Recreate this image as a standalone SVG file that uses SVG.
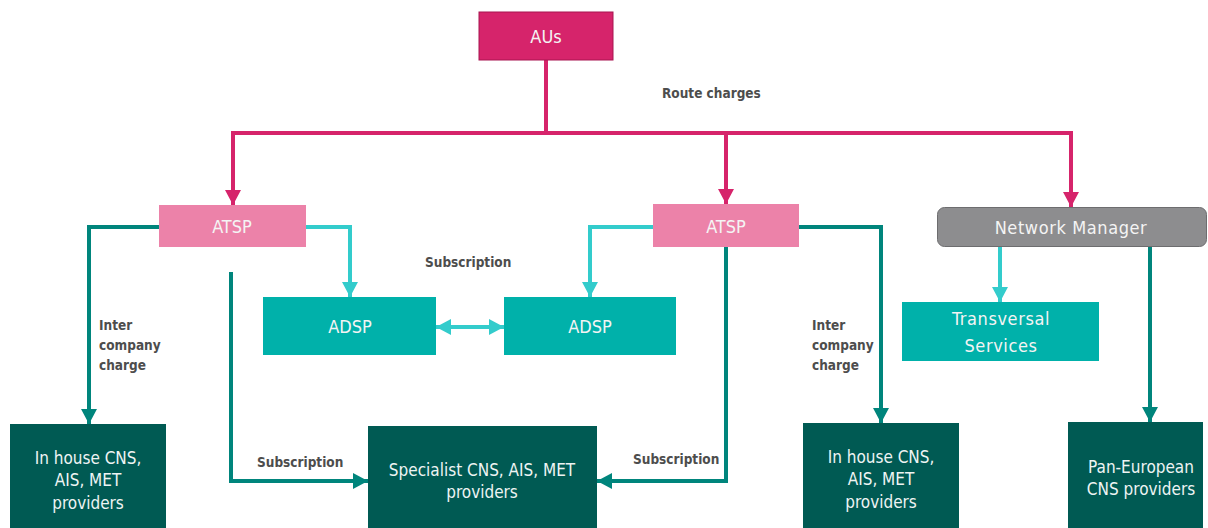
<svg xmlns="http://www.w3.org/2000/svg" width="1208" height="528" viewBox="0 0 1208 528">
<style>
.lbl{font-family:"Liberation Sans Narrow","DejaVu Sans Condensed","Liberation Sans",sans-serif;font-weight:bold;font-size:13.5px;fill:#4d4d4d}
.nt{font-family:"Liberation Sans Narrow","DejaVu Sans Condensed","Liberation Sans",sans-serif;font-size:18px;fill:#f4f4f4;text-anchor:middle}
.nt2{font-family:"Liberation Sans Narrow","DejaVu Sans Condensed","Liberation Sans",sans-serif;font-size:17px;fill:#eef4f3;text-anchor:middle}
.mag{fill:none;stroke:#d6246b;stroke-width:4}
.teal{fill:none;stroke:#00857c;stroke-width:4}
.cyan{fill:none;stroke:#33cccc;stroke-width:4}
</style>
<defs>
<marker id="am" markerUnits="userSpaceOnUse" markerWidth="16" markerHeight="16" refX="15" refY="8" orient="auto"><path d="M0,0 L15,8 L0,16 z" fill="#d6246b"/></marker>
<marker id="at" markerUnits="userSpaceOnUse" markerWidth="16" markerHeight="16" refX="15" refY="8" orient="auto"><path d="M0,0 L15,8 L0,16 z" fill="#00857c"/></marker>
<marker id="ac" markerUnits="userSpaceOnUse" markerWidth="16" markerHeight="16" refX="15" refY="8" orient="auto"><path d="M0,0 L15,8 L0,16 z" fill="#33cccc"/></marker>
<marker id="acs" markerUnits="userSpaceOnUse" markerWidth="16" markerHeight="16" refX="0" refY="8" orient="auto"><path d="M15,0 L0,8 L15,16 z" fill="#33cccc"/></marker>
</defs>
<rect width="1208" height="528" fill="#ffffff"/>
<g id="connectors">
<path class="mag" d="M546,60 V133 H233 V205" marker-end="url(#am)"/>
<path class="mag" d="M546,133 H726 V204" marker-end="url(#am)"/>
<path class="mag" d="M726,133 H1071 V207" marker-end="url(#am)"/>
<path class="teal" d="M159,227 H89 V424" marker-end="url(#at)"/>
<path class="teal" d="M231,272 V481 H368" marker-end="url(#at)"/>
<path class="teal" d="M726,247 V481 H597" marker-end="url(#at)"/>
<path class="teal" d="M799,227 H881 V423" marker-end="url(#at)"/>
<path class="teal" d="M1150,247 V422" marker-end="url(#at)"/>
<path class="cyan" d="M306,227 H350 V297" marker-end="url(#ac)"/>
<path class="cyan" d="M653,227 H590 V297" marker-end="url(#ac)"/>
<path class="cyan" d="M1000,247 V302" marker-end="url(#ac)"/>
<path class="cyan" d="M436,327 H504" marker-start="url(#acs)" marker-end="url(#ac)"/>
<text class="lbl" x="662" y="98">Route charges</text>
<text class="lbl" x="425" y="267">Subscription</text>
<text class="lbl" x="257" y="467">Subscription</text>
<text class="lbl" x="633" y="464">Subscription</text>
<text class="lbl" x="99" y="330">Inter</text>
<text class="lbl" x="99" y="350">company</text>
<text class="lbl" x="99" y="370">charge</text>
<text class="lbl" x="812" y="330">Inter</text>
<text class="lbl" x="812" y="350">company</text>
<text class="lbl" x="812" y="370">charge</text>
</g>
<g id="aus"><rect x="479" y="12" width="134" height="48" fill="#d6246b" stroke="#a81550" stroke-width="1"/><text class="nt" x="546" y="43">AUs</text></g>
<g id="atsp1"><rect x="159" y="205" width="147" height="42" fill="#ec82a9"/><text class="nt" x="232" y="233">ATSP</text></g>
<g id="atsp2"><rect x="653" y="204" width="146" height="43" fill="#ec82a9"/><text class="nt" x="726" y="233">ATSP</text></g>
<g id="nm"><rect x="937.5" y="207.5" width="269" height="39" rx="7" fill="#8d8d8f" stroke="#6d6d6f" stroke-width="1"/><text class="nt" x="1071" y="234" letter-spacing="0.6">Network Manager</text></g>
<g id="adsp1"><rect x="263" y="297" width="173" height="58" fill="#00b1aa"/><text class="nt" x="350" y="333">ADSP</text></g>
<g id="adsp2"><rect x="504" y="297" width="172" height="58" fill="#00b1aa"/><text class="nt" x="590" y="333">ADSP</text></g>
<g id="transversal"><rect x="902" y="302" width="197" height="59" fill="#00b1aa"/><text class="nt" x="1001" y="325" letter-spacing="0.6">Transversal</text><text class="nt" x="1001" y="352" letter-spacing="0.6">Services</text></g>
<g id="inhouse1"><rect x="10" y="424" width="156" height="104" fill="#005a53"/><text class="nt2" x="88" y="464">In house CNS,</text><text class="nt2" x="88" y="486">AIS, MET</text><text class="nt2" x="88" y="509">providers</text></g>
<g id="specialist"><rect x="368" y="426" width="229" height="102" fill="#005a53"/><text class="nt2" x="482" y="476">Specialist CNS, AIS, MET</text><text class="nt2" x="482" y="498">providers</text></g>
<g id="inhouse2"><rect x="803" y="423" width="156" height="105" fill="#005a53"/><text class="nt2" x="881" y="463">In house CNS,</text><text class="nt2" x="881" y="485">AIS, MET</text><text class="nt2" x="881" y="508">providers</text></g>
<g id="paneuropean"><rect x="1068" y="422" width="135" height="106" fill="#005a53"/><text class="nt2" x="1141" y="473">Pan-European</text><text class="nt2" x="1141" y="495">CNS providers</text></g>
</svg>
